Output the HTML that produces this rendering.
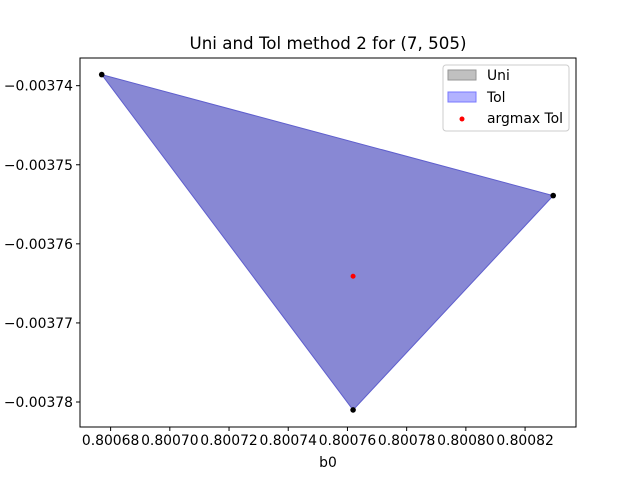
<!DOCTYPE html>
<html><head><meta charset="utf-8"><style>
body{margin:0;background:#fff}
svg{font-family:"DejaVu Sans","Liberation Sans",sans-serif}
</style></head><body>
<svg id="chart" width="640" height="480" xmlns="http://www.w3.org/2000/svg">
<rect width="640" height="480" fill="#fff"/>
<g id="plot"></g>
</svg>
<script>
const xTicks=[0.80068,0.80070,0.80072,0.80074,0.80076,0.80078,0.80080,0.80082];
const xTickLabels=["0.80068","0.80070","0.80072","0.80074","0.80076","0.80078","0.80080","0.80082"];
const yTicks=[-0.00374,-0.00375,-0.00376,-0.00377,-0.00378];
const yTickLabels=["−0.00374","−0.00375","−0.00376","−0.00377","−0.00378"];
const vertX=[0.800677,0.8008295,0.8007619];
const vertY=[-0.0037386,-0.0037539,-0.0037810];
const argmaxX=[0.8007619];
const argmaxY=[-0.0037641];
const L=80,R=576,T=58,B=427;
const xMin=0.80066966,xMax=0.8008372,yMin=-0.00378316,yMax=-0.0037365;
const xs=v=>L+(v-xMin)/(xMax-xMin)*(R-L);
const ys=v=>B-(v-yMin)/(yMax-yMin)*(B-T);
const g=document.getElementById('plot');
const NS="http://www.w3.org/2000/svg";
function mk(tag,attrs,txt){const e=document.createElementNS(NS,tag);for(const k in attrs)e.setAttribute(k,attrs[k]);if(txt!==undefined)e.textContent=txt;g.appendChild(e);return e;}
let pts=vertX.map((x,i)=>xs(x)+","+ys(vertY[i])).join(" ");
let poly=mk('polygon',{points:pts,fill:"rgb(136,136,212)",stroke:"rgb(95,95,205)","stroke-width":1});


vertX.forEach((x,i)=>{const c=mk('circle',{cx:xs(x),cy:ys(vertY[i]),r:2.8,fill:"#000"});

});
argmaxX.forEach((x,i)=>{const c=mk('circle',{cx:xs(x),cy:ys(argmaxY[i]),r:2.5,fill:"red"});

});
let ax=mk('rect',{x:L,y:T,width:R-L,height:B-T,fill:"none",stroke:"#000","stroke-width":1});


xTicks.forEach((v,i)=>{const x=xs(v);mk('line',{x1:x,x2:x,y1:B,y2:B+4,stroke:"#000"});
const t=mk('text',{x:x,y:B+18,"font-size":13.9,"text-anchor":"middle",fill:"#000"},xTickLabels[i]);

});
yTicks.forEach((v,i)=>{const y=ys(v);mk('line',{x1:L-4,x2:L,y1:y,y2:y,stroke:"#000"});
const t=mk('text',{x:L-7,y:y+5,"font-size":13.9,"text-anchor":"end",fill:"#000"},yTickLabels[i]);

});
let xt=mk('text',{x:(L+R)/2,y:467,"font-size":13.9,"text-anchor":"middle"},"b0");


let tt=mk('text',{x:(L+R)/2,y:49,"font-size":16.7,"text-anchor":"middle"},"Uni and Tol method 2 for (7, 505)");


let lg=mk('rect',{x:443,y:65,width:126,height:66,rx:3,fill:"#fff",stroke:"#ccc"});


const legItems=[["Uni","rgb(192,192,192)","rgb(150,150,150)"],["Tol","rgb(178,178,255)","rgb(120,120,255)"]];
legItems.forEach((it,i)=>{const y=70+i*22;
mk('rect',{x:448,y:y,width:28,height:10,fill:it[1],stroke:it[2]});
const t=mk('text',{x:487,y:y+10,"font-size":13.9},it[0]);

});
mk('circle',{cx:462,cy:119,r:2.5,fill:"red"});
let t3=mk('text',{x:487,y:123,"font-size":13.9},"argmax Tol");


</script>
</body></html>
